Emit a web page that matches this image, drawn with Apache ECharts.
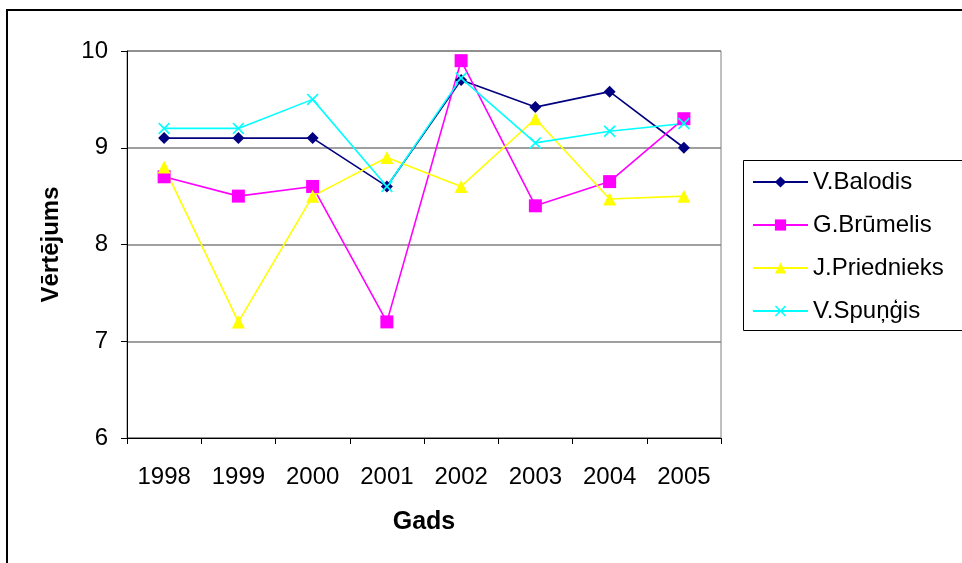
<!DOCTYPE html>
<html>
<head>
<meta charset="utf-8">
<script src="https://cdn.jsdelivr.net/npm/echarts@6/dist/echarts.min.js"></script>
<style>html,body{margin:0;padding:0;background:#fff;}#c{width:962px;height:563px;}</style>
</head>
<body>
<div id="c"></div>
<script>
const years = ['1998','1999','2000','2001','2002','2003','2004','2005'];
const seriesNames = ['V.Balodis','G.Brūmelis','J.Priednieks','V.Spuņģis'];
const balodis    = [9.1, 9.1, 9.1, 8.6, 9.7, 9.42, 9.58, 9.0];
const brumelis   = [8.7, 8.5, 8.6, 7.2, 9.9, 8.4, 8.65, 9.3];
const priednieks = [8.8, 7.2, 8.5, 8.9, 8.6, 9.3, 8.47, 8.5];
const spungis    = [9.2, 9.2, 9.5, 8.6, 9.72, 9.05, 9.17, 9.25];
const yTicks = [6, 7, 8, 9, 10];

const FONT = 'Liberation Sans, Arial, sans-serif';
const xSym = 'path://M1,0L5,4L9,0L10,1L6,5L10,9L9,10L5,6L1,10L0,9L4,5L0,1Z';

function mk(name, data, color, symbol, size) {
  return {
    name, type: 'line', data, symbol, symbolSize: size,
    lineStyle: {color, width: 1.6}, itemStyle: {color},
    emphasis: {disabled: true}, animation: false
  };
}

const chart = echarts.init(document.getElementById('c'), null, {renderer: 'canvas'});
chart.setOption({
  backgroundColor: '#fff',
  animation: false,
  grid: {left: 127, right: 241, top: 51, bottom: 125, show: true, borderColor: '#808080', borderWidth: 1},
  xAxis: {
    type: 'category', data: years, boundaryGap: true,
    name: 'Gads', nameLocation: 'middle', nameGap: 72,
    nameTextStyle: {fontFamily: FONT, fontSize: 25, fontWeight: 'bold', color: '#000'},
    axisLine: {lineStyle: {color: '#000', width: 1}},
    axisTick: {show: true, length: 6, lineStyle: {color: '#000'}},
    axisLabel: {fontFamily: FONT, fontSize: 24, color: '#000', margin: 27}
  },
  yAxis: {
    type: 'value', min: yTicks[0], max: yTicks[yTicks.length - 1], interval: 1,
    name: 'Vērtējums', nameLocation: 'middle', nameGap: 64,
    nameTextStyle: {fontFamily: FONT, fontSize: 24, fontWeight: 'bold', color: '#000'},
    axisLine: {show: true, lineStyle: {color: '#000', width: 1}},
    axisTick: {show: true, length: 6, lineStyle: {color: '#000'}},
    axisLabel: {fontFamily: FONT, fontSize: 24, color: '#000', margin: 19},
    splitLine: {show: true, lineStyle: {color: '#808080', width: 1.5}}
  },
  legend: {
    orient: 'vertical', left: 752, top: 170, padding: 0,
    itemWidth: 55, itemHeight: 14, itemGap: 19,
    textStyle: {fontFamily: FONT, fontSize: 24, color: '#000'},
    data: seriesNames
  },
  graphic: [
    {type: 'rect', shape: {x: 7, y: 10, width: 1000, height: 600}, style: {fill: 'none', stroke: '#000', lineWidth: 2}, silent: true},
    {type: 'rect', shape: {x: 743.5, y: 160.5, width: 240, height: 170}, style: {fill: 'none', stroke: '#000', lineWidth: 1}, silent: true}
  ],
  series: [
    mk(seriesNames[0], balodis, '#000080', 'diamond', 12),
    mk(seriesNames[1], brumelis, '#FF00FF', 'rect', 13),
    mk(seriesNames[2], priednieks, '#FFFF00', 'triangle', 13),
    mk(seriesNames[3], spungis, '#00FFFF', xSym, 12)
  ]
});
</script>
</body>
</html>
